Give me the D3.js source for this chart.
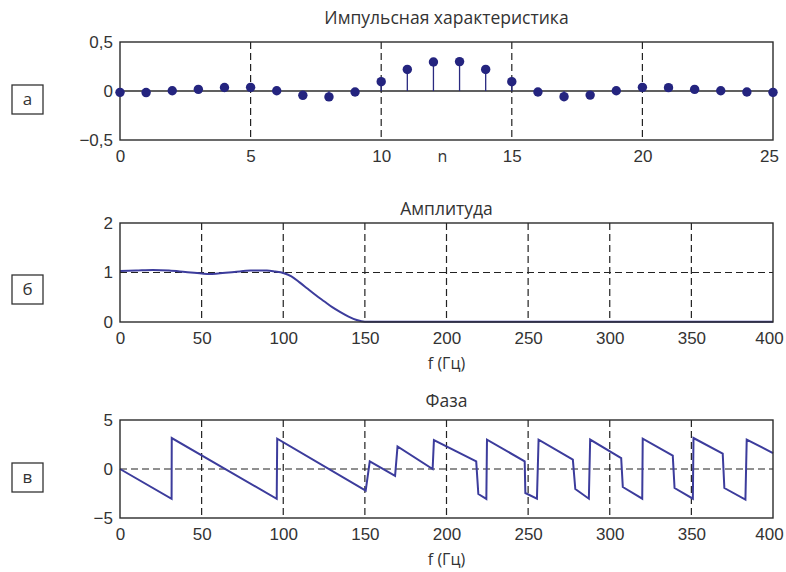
<!DOCTYPE html>
<meta charset="utf-8">
<style>
body { margin: 0; background: #fff; }
svg { font-family: "Open Sans", sans-serif; }
.frame { fill: none; stroke: #2b2b2b; stroke-width: 1.4px; }
.grid { stroke: #222; stroke-width: 1.2px; stroke-dasharray: 7,4; }
.baseline { stroke: #2b2b2b; stroke-width: 1.4px; }
.tick text { font-size: 17px; fill: #333; }
.title { font-size: 17.5px; fill: #333; text-anchor: middle; }
.xname { font-size: 16px; fill: #333; text-anchor: middle; }
.curve { fill: none; stroke: #3c3c9c; stroke-width: 2px; }
.stem { stroke: #2a2a80; stroke-width: 1.3px; }
.dot { fill: #24247f; }
.tag rect { fill: none; stroke: #333; stroke-width: 1.3px; }
.tag text { font-size: 17px; fill: #333; text-anchor: middle; }
</style>
<svg width="786" height="572"></svg>
<script src="https://d3js.org/d3.v7.min.js"></script>
<script>

// impulse response h[n]
var impN = [0,1,2,3,4,5,6,7,8,9,10,11,12,13,14,15,16,17,18,19,20,21,22,23,24,25];
var impH = [-0.014,-0.016,0.003,0.017,0.036,0.037,0.003,-0.044,-0.06,-0.01,0.095,0.22,0.296,
            0.3,0.22,0.095,-0.01,-0.058,-0.042,0.003,0.037,0.034,0.017,0.003,-0.01,-0.014];

// amplitude response
var ampF = [0,10,20,30,40,50,55,60,70,80,90,95,100,105,110,115,120,125,130,135,140,145,150,
            175,200,225,250,275,300,325,350,375,400];
var ampA = [1.03,1.04,1.05,1.04,1.01,0.98,0.97,0.98,1.01,1.04,1.04,1.02,0.99,0.92,0.8,0.67,0.54,0.42,0.3,0.2,0.11,0.04,0.005,
            0.006,0.005,0.006,0.005,0.006,0.005,0.006,0.005,0.006,0.005];

// phase response (vertices of the wrapped line)
var phF = [0,31.6,31.7,96,96.3,150.5,153,168.5,170,191.5,192.3,218.2,219.5,224.4,224.8,247.9,248.3,255.4,256.4,
           277.4,278.9,287.2,288,307,308,319.9,320.2,338.6,339.7,350.9,351.3,369.2,370.2,383.1,383.9,400];
var phV = [0,-3.05,3.16,-3.05,3.1,-2.2,0.78,-0.7,2.3,0,2.95,0.78,-2.55,-3.05,3.0,0.78,-2.45,-3.03,3.0,
           0.95,-2.04,-3.03,3.0,1.12,-1.84,-3.03,3.1,1.36,-1.94,-3.03,3.16,1.56,-1.94,-3.13,3.0,1.63];

var nTicks = [0,5,10,15,20,25];
var fTicks = [0,50,100,150,200,250,300,350,400];
var hTicks = [-0.5,0,0.5];
var aTicks = [0,1,2];
var pTicks = [-5,0,5];

var titles = ["Импульсная характеристика", "Амплитуда", "Фаза"];
var tags = ["а", "б", "в"];

var svg = d3.select("svg");
var left = 120, right = 773;

var loc = d3.formatLocale({decimal: ",", thousands: " ", grouping: [3], currency: ["", ""], minus: "\u2212"});
var fmt = loc.format("~g");

function panel(top, bottom, xDom, yDom, xT, yT, vGrid, hGrid) {
  var x = d3.scaleLinear().domain(xDom).range([left, right]);
  var y = d3.scaleLinear().domain(yDom).range([bottom, top]);
  var g = svg.append("g");

  g.selectAll(".vg").data(vGrid).enter().append("line")
      .attr("class", "grid")
      .attr("x1", function(d) { return x(d); }).attr("x2", function(d) { return x(d); })
      .attr("y1", top).attr("y2", bottom);
  g.selectAll(".hg").data(hGrid).enter().append("line")
      .attr("class", "grid")
      .attr("x1", left).attr("x2", right)
      .attr("y1", function(d) { return y(d); }).attr("y2", function(d) { return y(d); });

  g.append("g")
      .attr("transform", "translate(0," + bottom + ")")
      .call(d3.axisBottom(x).tickValues(xT).tickSize(0).tickPadding(10).tickFormat(fmt))
      .call(function(a) {
        a.select(".domain").remove();
        // keep the last label inside the page
        a.selectAll(".tick:last-of-type text").attr("dx", -4);
      });
  g.append("g")
      .attr("transform", "translate(" + left + ",0)")
      .call(d3.axisLeft(y).tickValues(yT).tickSize(0).tickPadding(7).tickFormat(fmt))
      .call(function(a) { a.select(".domain").remove(); });

  return {x: x, y: y, g: g, top: top, bottom: bottom};
}

function frame(p) {
  p.g.append("rect").attr("class", "frame")
      .attr("x", left).attr("y", p.top)
      .attr("width", right - left).attr("height", p.bottom - p.top);
}

// --- a: impulse response
var p1 = panel(42, 140, [0, 25], [-0.5, 0.5], nTicks, hTicks, [5,10,15,20], []);
p1.g.append("line").attr("class", "baseline")
    .attr("x1", left).attr("x2", right)
    .attr("y1", p1.y(0)).attr("y2", p1.y(0));
p1.g.selectAll(".stem").data(impN).enter().append("line")
    .attr("class", "stem")
    .attr("x1", function(d) { return p1.x(d); }).attr("x2", function(d) { return p1.x(d); })
    .attr("y1", p1.y(0))
    .attr("y2", function(d, i) { return p1.y(impH[i]); });
frame(p1);
p1.g.selectAll(".dot").data(impN).enter().append("circle")
    .attr("class", "dot")
    .attr("r", 4.7)
    .attr("cx", function(d) { return p1.x(d); })
    .attr("cy", function(d, i) { return p1.y(impH[i]); });

// --- b: amplitude
var p2 = panel(223, 322, [0, 400], [0, 2], fTicks, aTicks, [50,100,150,200,250,300,350], [1]);
var ampLine = d3.line()
    .x(function(d, i) { return p2.x(ampF[i]); })
    .y(function(d) { return p2.y(d); })
    .curve(d3.curveMonotoneX);
p2.g.append("path").datum(ampA).attr("class", "curve").attr("d", ampLine);
frame(p2);

// --- c: phase
var p3 = panel(420, 518, [0, 400], [-5, 5], fTicks, pTicks, [50,100,150,200,250,300,350], [0]);
var phLine = d3.line()
    .x(function(d, i) { return p3.x(phF[i]); })
    .y(function(d) { return p3.y(d); });
p3.g.append("path").datum(phV).attr("class", "curve").attr("d", phLine);
frame(p3);

// titles and axis names
var mid = (left + right) / 2;
[[titles[0], 24], [titles[1], 215], [titles[2], 407]].forEach(function(t) {
  svg.append("text").attr("class", "title").attr("x", mid).attr("y", t[1]).text(t[0]);
});
svg.append("text").attr("class", "xname").attr("x", mid - 4).attr("y", 162).text("n");
svg.append("text").attr("class", "xname").attr("x", mid).attr("y", 369).text("f (Гц)");
svg.append("text").attr("class", "xname").attr("x", mid).attr("y", 565).text("f (Гц)");

// panel letters
[[tags[0], 85], [tags[1], 275], [tags[2], 463]].forEach(function(t) {
  var g = svg.append("g").attr("class", "tag");
  g.append("rect").attr("x", 12).attr("y", t[1]).attr("width", 31).attr("height", 29);
  g.append("text").attr("x", 27.5).attr("y", t[1] + 20).text(t[0]);
});

</script>
